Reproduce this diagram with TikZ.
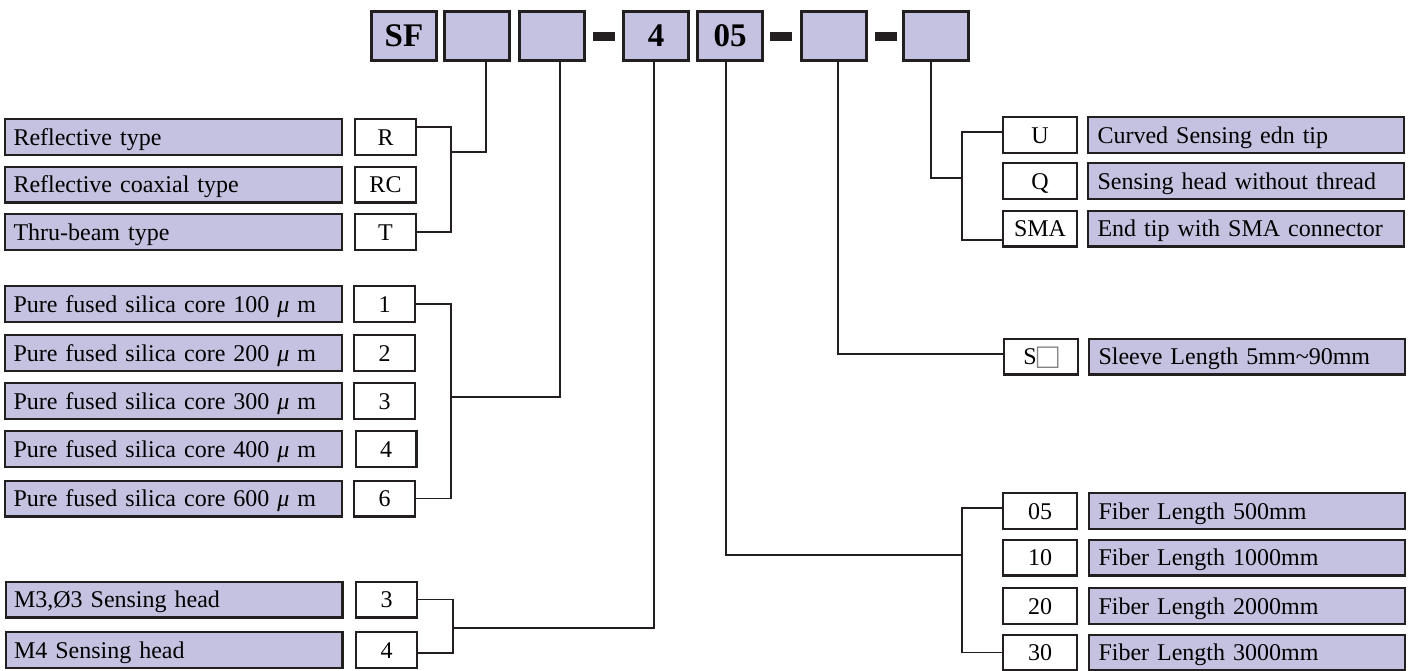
\documentclass[tikz,border=0pt]{standalone}
\usepackage{fontspec}
\setmainfont{Liberation Serif}[WordSpace=0.8]
\definecolor{lav}{RGB}{196,194,224}
\definecolor{bd}{RGB}{35,31,32}
\tikzset{
 box/.style={draw=bd, line width=2.4pt, inner sep=0pt, minimum height=35.6pt, text height=16pt, text depth=0pt, font=\fontsize{24}{26}\selectfont},
 descL/.style={box, fill=lav, minimum width=336.6pt, text width=320pt, align=left},
 descR/.style={box, fill=lav, minimum width=315.6pt, text width=297pt, align=left},
 numL/.style={box, fill=white, minimum width=60.6pt},
 numR/.style={box, fill=white, minimum width=73.6pt},
 topbox/.style={draw=bd, line width=2.6pt, fill=lav, minimum width=65.4pt, minimum height=49.4pt, inner sep=0pt, font=\fontsize{33}{36}\selectfont\bfseries, text height=22pt, text depth=2pt},
 dashbar/.style={fill=bd, minimum width=22pt, minimum height=9pt, inner sep=0pt},
 conn/.style={draw=bd, line width=1.5pt},
}
\begin{document}
\begin{tikzpicture}[x=1pt,y=-1pt]
\useasboundingbox (0,0) rectangle (1413,670);
% top code boxes
\node[topbox] (t1) at (404,36) {SF};
\node[topbox] (t2) at (477,36) {};
\node[topbox] (t3) at (552,36) {};
\node[dashbar] (d1) at (604,36.5) {};
\node[topbox] (t4) at (656,36) {4};
\node[topbox] (t5) at (730,36) {05};
\node[dashbar] (d2) at (781,36.5) {};
\node[topbox] (t6) at (834,36) {};
\node[dashbar] (d3) at (886,36.5) {};
\node[topbox] (t7) at (936,36) {};
% type
\node[descL] (dR) at (173.5,137) {Reflective type};
\node[descL] (dRC) at (173.5,184.5) {Reflective coaxial type};
\node[descL] (dT) at (173.5,232) {Thru-beam type};
\node[numL] (nR) at (385.5,137) {R};
\node[numL] (nRC) at (385.5,184.5) {RC};
\node[numL] (nT) at (385.5,232) {T};
% core
\node[descL] (dc1) at (173.5,304) {Pure fused silica core 100 \textit{μ} m};
\node[descL] (dc2) at (173.5,353) {Pure fused silica core 200 \textit{μ} m};
\node[descL] (dc3) at (173.5,401) {Pure fused silica core 300 \textit{μ} m};
\node[descL] (dc4) at (173.5,449) {Pure fused silica core 400 \textit{μ} m};
\node[descL] (dc6) at (173.5,498.5) {Pure fused silica core 600 \textit{μ} m};
\node[numL] (n1) at (384.5,304) {1};
\node[numL] (n2) at (384.5,353) {2};
\node[numL] (n3) at (384.5,401) {3};
\node[numL] (n4) at (386,449) {4};
\node[numL] (n6) at (384.5,498.5) {6};
% head
\node[descL] (dM3) at (174,599.5) {M3,Ø3 Sensing head};
\node[descL] (dM4) at (174,650) {M4 Sensing head};
\node[numL] (nM3) at (386.5,599.5) {3};
\node[numL] (nM4) at (386.5,650) {4};
% tips
\node[numR] (tU) at (1040,135) {U};
\node[numR] (tQ) at (1040,181) {Q};
\node[numR] (tSMA) at (1040,228.5) {SMA};
\node[descR] (eU) at (1246,135) {Curved Sensing edn tip};
\node[descR] (eQ) at (1246,181) {Sensing head without thread};
\node[descR] (eSMA) at (1246,228.5) {End tip with SMA connector};
% sleeve
\node[numR] (sS) at (1041,356.5) {S\raisebox{-3.5pt}{\fontsize{36}{36}\selectfont\textcolor{gray}{□}}};
\node[descR] (eS) at (1247,356.5) {Sleeve Length 5mm\textasciitilde 90mm};
% fiber
\node[numR] (f05) at (1040,511) {05};
\node[numR] (f10) at (1040,557.5) {10};
\node[numR] (f20) at (1040,606) {20};
\node[numR] (f30) at (1040,652.5) {30};
\node[descR] (g05) at (1247,511) {Fiber Length 500mm};
\node[descR] (g10) at (1247,557.5) {Fiber Length 1000mm};
\node[descR] (g20) at (1247,606) {Fiber Length 2000mm};
\node[descR] (g30) at (1247,652.5) {Fiber Length 3000mm};
% junctions
\coordinate (jA) at (451,152);
\coordinate (jB) at (451,397);
\coordinate (jC) at (453,628);
\coordinate (jD) at (962,555);
\coordinate (jF) at (962,178);
% connectors
\draw[conn] ([yshift=10pt]nR.east) -| (jA) |- (nT.east);
\draw[conn] (jA) -| ([xshift=9pt]t2.south);
\draw[conn] (n1.east) -| (jB) |- (n6.east);
\draw[conn] (jB) -| ([xshift=8pt]t3.south);
\draw[conn] (nM3.east) -| (jC) |- ([yshift=-3pt]nM4.east);
\draw[conn] (jC) -| ([xshift=-2pt]t4.south);
\draw[conn] ([yshift=3pt]f05.west) -| (jD) |- (f30.west);
\draw[conn] (jD) -| ([xshift=-4pt]t5.south);
\draw[conn] ([yshift=2.5pt]sS.west) -| ([xshift=4pt]t6.south);
\draw[conn] ([yshift=3pt]tU.west) -| (jF) |- ([yshift=-11.5pt]tSMA.west);
\draw[conn] (jF) -| ([xshift=-5pt]t7.south);
\end{tikzpicture}
\end{document}
